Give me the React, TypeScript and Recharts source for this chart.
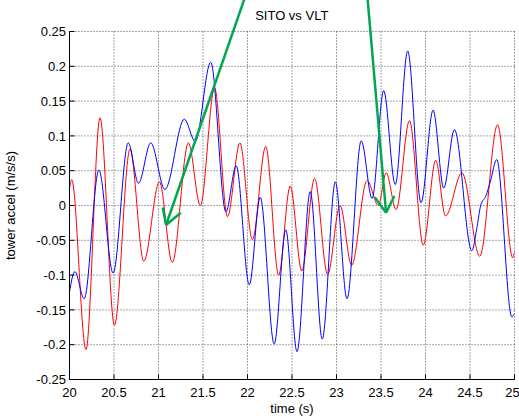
import { LineChart, Line, XAxis, YAxis, CartesianGrid, ReferenceLine } from 'recharts';

const FONT = '"Liberation Sans", Arial, sans-serif';

// red trace (time s, tower accel m/s/s)
const redT = [20.0, 20.025, 20.185, 20.343, 20.505, 20.68, 20.835, 21.01, 21.155, 21.336, 21.47, 21.63, 21.775, 21.915, 22.055, 22.205, 22.35, 22.48, 22.61, 22.754, 22.9, 23.04, 23.17, 23.343, 23.47, 23.558, 23.67, 23.82, 23.975, 24.115, 24.225, 24.41, 24.61, 24.81, 24.98, 25.0];
const redV = [0.025, 0.037, -0.207, 0.126, -0.172, 0.081, -0.08, 0.034, -0.082, 0.09, 0.0, 0.169, -0.016, 0.09, -0.049, 0.085, -0.1, 0.028, -0.094, 0.039, -0.099, 0.0, -0.086, 0.036, 0.0, 0.047, -0.006, 0.122, -0.057, 0.065, -0.015, 0.047, -0.073, 0.116, -0.075, -0.066];

// blue trace
const blueT = [20.0, 20.06, 20.165, 20.33, 20.49, 20.66, 20.775, 20.913, 21.072, 21.29, 21.413, 21.587, 21.757, 21.873, 22.02, 22.143, 22.3, 22.43, 22.556, 22.705, 22.84, 22.987, 23.118, 23.278, 23.4, 23.53, 23.66, 23.8, 23.95, 24.085, 24.205, 24.325, 24.52, 24.58, 24.62, 24.68, 24.73, 24.8, 24.97, 25.0];
const blueV = [-0.124, -0.095, -0.134, 0.051, -0.097, 0.09, 0.032, 0.09, 0.023, 0.124, 0.092, 0.206, -0.009, 0.057, -0.114, 0.012, -0.199, -0.035, -0.21, 0.02, -0.192, 0.034, -0.134, 0.093, 0.01, 0.165, 0.03, 0.222, 0.004, 0.137, 0.025, 0.109, -0.065, -0.03, 0.0, 0.014, 0.035, 0.066, -0.16, -0.155];

const xTicks = [20, 20.5, 21, 21.5, 22, 22.5, 23, 23.5, 24, 24.5, 25];
const yTicks = [-0.25, -0.2, -0.15, -0.1, -0.05, 0, 0.05, 0.1, 0.15, 0.2, 0.25];

// green annotation arrows: [from, to] in data coords
const arrowSegments = [
    [{ x: 21.963, y: 0.296 }, { x: 21.085, y: -0.028 }],
    [{ x: 21.048, y: -0.003 }, { x: 21.085, y: -0.028 }],
    [{ x: 21.085, y: -0.028 }, { x: 21.25, y: -0.0104 }],
    [{ x: 23.35, y: 0.296 }, { x: 23.557, y: -0.0104 }],
    [{ x: 23.43, y: 0.0118 }, { x: 23.557, y: -0.0104 }],
    [{ x: 23.557, y: -0.0104 }, { x: 23.65, y: 0.0137 }],
];

const redData = redT.map((t, i) => ({ t, v: redV[i] }));
const blueData = blueT.map((t, i) => ({ t, v: blueV[i] }));

const fmt = (v: number) => String(+v.toFixed(2));
const tickStyle = { fill: '#000', fontSize: 13, fontFamily: FONT };

export default function App() {
    return (
        <div style={{ position: 'absolute', left: 0, top: 0, width: 519, height: 417, background: '#fff' }}>
            <div
                style={{
                    position: 'absolute',
                    left: 191.75,
                    width: 200,
                    top: 8,
                    textAlign: 'center',
                    fontFamily: FONT,
                    fontSize: 13,
                    lineHeight: '16px',
                    color: '#000',
                }}
            >
                SITO vs VLT
            </div>
            <LineChart width={519} height={417} margin={{ top: 31.5, right: 4.5, bottom: 0, left: 0 }}>
                <CartesianGrid xAxisId="x" yAxisId="y" stroke="#000" strokeOpacity={0.7} strokeDasharray="1 2" />
                <XAxis
                    xAxisId="x"
                    dataKey="t"
                    type="number"
                    domain={[20, 25]}
                    ticks={xTicks}
                    allowDataOverflow
                    height={37.5}
                    stroke="#000"
                    tickSize={-5}
                    tickMargin={13.5}
                    tick={tickStyle}
                    tickFormatter={fmt}
                    label={{ value: 'time (s)', position: 'insideBottom', offset: 4.5, style: { fill: '#000', fontSize: 13, fontFamily: FONT } }}
                />
                <XAxis
                    xAxisId="top"
                    orientation="top"
                    dataKey="t"
                    type="number"
                    domain={[20, 25]}
                    ticks={xTicks}
                    allowDataOverflow
                    height={0}
                    stroke="#000"
                    tickSize={-5}
                    tickFormatter={() => ''}
                />
                <YAxis
                    yAxisId="y"
                    type="number"
                    domain={[-0.25, 0.25]}
                    ticks={yTicks}
                    allowDataOverflow
                    width={69.5}
                    stroke="#000"
                    tickSize={-5}
                    tickMargin={8.5}
                    tick={tickStyle}
                    tickFormatter={fmt}
                    label={{
                        value: 'tower accel (m/s/s)',
                        angle: -90,
                        position: 'insideLeft',
                        offset: 10,
                        style: { textAnchor: 'middle', fill: '#000', fontSize: 13, fontFamily: FONT },
                    }}
                />
                <YAxis
                    yAxisId="right"
                    orientation="right"
                    type="number"
                    domain={[-0.25, 0.25]}
                    ticks={yTicks}
                    allowDataOverflow
                    width={0}
                    stroke="#000"
                    tickSize={-5}
                    tickFormatter={() => ''}
                />
                <Line
                    xAxisId="x"
                    yAxisId="y"
                    data={redData}
                    dataKey="v"
                    type="monotone"
                    stroke="#ff0000"
                    strokeWidth={1}
                    dot={false}
                    isAnimationActive={false}
                />
                <Line
                    xAxisId="x"
                    yAxisId="y"
                    data={blueData}
                    dataKey="v"
                    type="monotone"
                    stroke="#0000ff"
                    strokeWidth={1}
                    dot={false}
                    isAnimationActive={false}
                />
                {arrowSegments.map((seg, i) => (
                    <ReferenceLine
                        key={i}
                        xAxisId="x"
                        yAxisId="y"
                        segment={seg}
                        ifOverflow="visible"
                        stroke="#00a850"
                        strokeWidth={2.5}
                    />
                ))}
            </LineChart>
        </div>
    );
}
